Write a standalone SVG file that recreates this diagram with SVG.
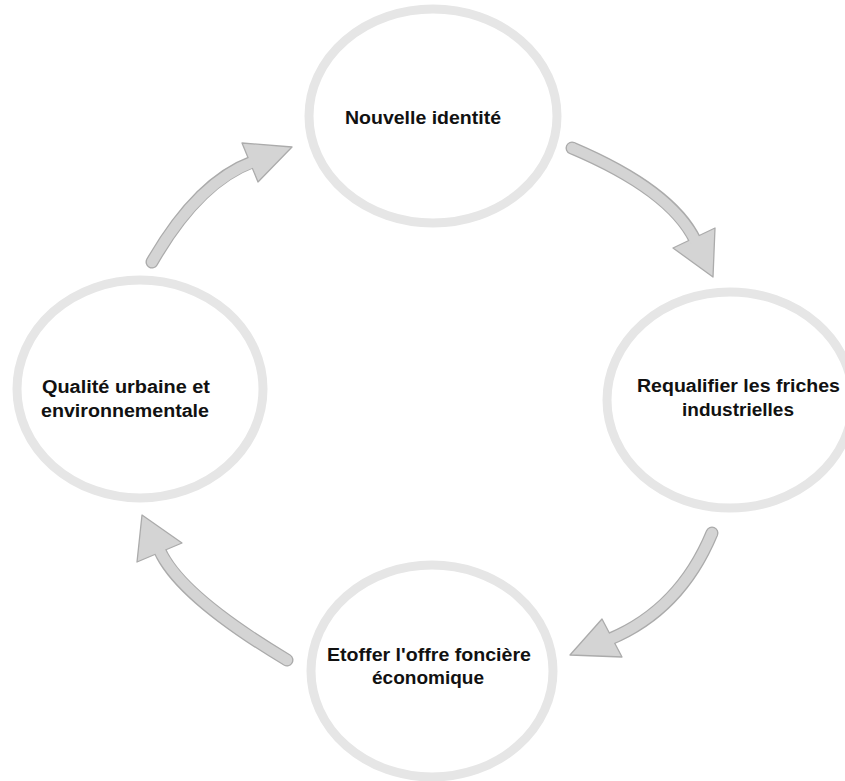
<svg xmlns="http://www.w3.org/2000/svg" width="845" height="781" viewBox="0 0 845 781">
<style>
.ring{fill:#ffffff;stroke:#e6e6e6;stroke-width:9}
.lbl{font-family:"Liberation Sans",Arial,sans-serif;font-weight:bold;font-size:17.5px;fill:#111111;text-anchor:middle}
.sh-o{fill:none;stroke:#ababab;stroke-width:13;stroke-linecap:round}
.sh-i{fill:none;stroke:#d4d4d4;stroke-width:10.5}
.hd{fill:#d4d4d4;stroke:#ababab;stroke-width:1.3;stroke-linejoin:round}
</style>
<rect width="845" height="781" fill="#ffffff"/>
<g id="connectors">
  <g id="arrow-left-top">
    <path class="sh-o" d="M152,262 Q198,182 252,162"/>
    <polygon class="hd" points="292,147 242,143 258,182"/>
    <path class="sh-i" d="M152,262 Q198,182 254,161.5"/>
    <circle cx="152" cy="262" r="5.2" fill="#d4d4d4"/>
  </g>
  <g id="arrow-top-right">
    <path class="sh-o" d="M572,148 Q671,190 695,240"/>
    <polygon class="hd" points="713,277 673,248 715,228"/>
    <path class="sh-i" d="M572,148 Q671,190 696,242"/>
    <circle cx="572" cy="148" r="5.2" fill="#d4d4d4"/>
  </g>
  <g id="arrow-right-bottom">
    <path class="sh-o" d="M712,533 Q680,610 610,639"/>
    <polygon class="hd" points="570,655 602,619 622,657"/>
    <path class="sh-i" d="M712,533 Q680,610 608,640"/>
    <circle cx="712" cy="533" r="5.2" fill="#d4d4d4"/>
  </g>
  <g id="arrow-bottom-left">
    <path class="sh-o" d="M287,660 Q180,596 160,551"/>
    <polygon class="hd" points="142,515 137,562 182,543"/>
    <path class="sh-i" d="M287,660 Q180,596 159,549"/>
    <circle cx="287" cy="660" r="5.2" fill="#d4d4d4"/>
  </g>
</g>
<g id="node-top">
  <ellipse class="ring" cx="433" cy="116" rx="124" ry="107"/>
  <text class="lbl" x="423" y="124" textLength="156" lengthAdjust="spacingAndGlyphs">Nouvelle identité</text>
</g>
<g id="node-right">
  <ellipse class="ring" cx="730" cy="400" rx="123" ry="108"/>
  <text class="lbl" x="738.5" y="392" textLength="203" lengthAdjust="spacingAndGlyphs">Requalifier les friches</text>
  <text class="lbl" x="738" y="416" textLength="112" lengthAdjust="spacingAndGlyphs">industrielles</text>
</g>
<g id="node-left">
  <ellipse class="ring" cx="140" cy="389" rx="123" ry="109"/>
  <text class="lbl" x="126" y="393" textLength="168" lengthAdjust="spacingAndGlyphs">Qualité urbaine et</text>
  <text class="lbl" x="125" y="417" textLength="168" lengthAdjust="spacingAndGlyphs">environnementale</text>
</g>
<g id="node-bottom">
  <ellipse class="ring" cx="432" cy="671" rx="121" ry="106"/>
  <text class="lbl" x="429" y="661" textLength="204" lengthAdjust="spacingAndGlyphs">Etoffer l'offre foncière</text>
  <text class="lbl" x="428" y="684" textLength="112" lengthAdjust="spacingAndGlyphs">économique</text>
</g>
</svg>
